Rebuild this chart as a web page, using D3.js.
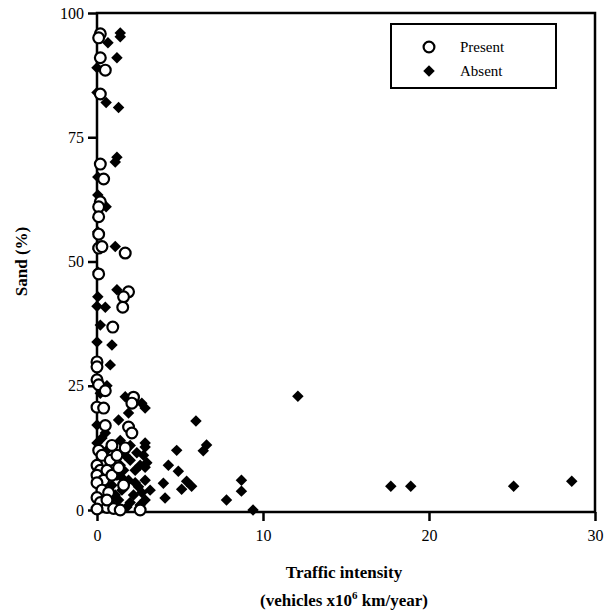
<!DOCTYPE html>
<html>
<head>
<meta charset="UTF-8">
<script src="https://d3js.org/d3.v7.min.js"></script>
<style>
  body { margin: 0; background: #fff; }
  svg text { font-family: 'Liberation Serif', 'Times New Roman', serif !important; fill: #000; }
</style>
</head>
<body>
<svg id="chart" width="611" height="614"></svg>
<script>
// --- data (traffic intensity, sand %) ---
const xTicks = [0, 10, 20, 30];
const yTicks = [0, 25, 50, 75, 100];
const seriesNames = ["Present", "Absent"];

const presentX = [0.2,0.1,0.2,0.5,0.2,0.2,0.4,0.2,0.1,0.1,0.1,0.1,0.3,1.7,0.1,1.9,1.6,1.55,0.95,0,0,0,0.1,2.2,0,0.4,2.1,1.9,2.1,
  0.1,0.3,0.8,0,0.2,0.6,0,0.4,0.9,0,0.3,0.7,0,0.2,0.6,0,1.0,1.4,2.6,1.2,1.7,0.5,0.6,1.6,0.9,1.3,0.5];
const presentY = [95.8,95.0,91,88.5,83.7,69.6,66.6,62,61,59,55.5,52.7,53,51.7,47.5,43.9,42.9,40.8,36.8,29.8,28.8,26.2,25.2,22.7,20.7,20.5,21.5,16.7,15.5,
  12,11,10,9,8,8,7,6,7,5.5,4,3.5,2.5,1.5,0.5,0.2,0.3,0,0,11,12.5,24,2,5,13,8.5,17];

const absentX = [1.4,1.4,0.66,1.2,0,0,0.55,1.3,1.2,1.1,0.05,0.05,0.55,0.05,0.05,0.05,1.1,0.05,0.05,1.2,0,0.5,0.2,0,0.9,0.8,0,0.6,0.2,
  1.7,2.7,2.9,1.9,1.3,0,0.5,0,2.9,12.1,5.96,6.6,6.4,4.8,4.9,5.4,5.7,5.1,8.7,8.7,7.8,9.4,17.7,18.9,25.1,28.6,2.9,4.3,4.0,2.5,4.1,
  1.7,2.0,1.4,2.3,2.6,1.9,1.5,2.2,2.9,1.3,2.6,1.8,3.2,2.9,0.9,0.8,2.0,1.4,2.8,3.0,2.9,0.3,0.6,1.0,1.2,2.3,0.6,1.0,
  1.5,2.4,1.1,2.7,2.0,1.6];
const absentY = [96,95.2,94,91,89,84,82,81,71,70,67,63.4,61,58.8,56,52.5,53,47.9,42.9,44.3,41,40.8,37.2,33.8,33.2,29.2,25,25,23.5,
  22.8,21.5,20.5,19.5,18.1,17.1,15.5,13.5,13.5,22.9,17.9,13.1,11.9,12,7.8,5.8,4.8,4.2,6,3.8,2,0,4.8,4.8,4.8,5.8,8.6,9,5.4,4.7,2.4,
  11,10,9,8,9,6,4,3,2,2,1,0.6,4,6,5,2,13,14,11,9.5,12.7,14.5,12,10.5,7,5.5,3.3,0.8,
  6.5,11.5,3,3.5,1.5,8];

// --- layout ---
const svg = d3.select("#chart");
const x = d3.scaleLinear().domain([0, 30]).range([97, 595]);
const y = d3.scaleLinear().domain([-0.4, 100]).range([512, 13]);
const diamond = d3.symbol().type(d3.symbolDiamond2).size(84);
const serif = "'Liberation Serif', 'Times New Roman', serif";

// frame
svg.append("rect")
  .attr("x", x(0)).attr("y", y(100))
  .attr("width", x(30) - x(0)).attr("height", y(-0.4) - y(100))
  .attr("fill", "none").attr("stroke", "#000").attr("stroke-width", 2.5);

// axes
const yAxis = svg.append("g").attr("transform", `translate(${x(0)},0)`)
  .call(d3.axisLeft(y).tickValues(yTicks).tickSize(9).tickPadding(4));
const xAxis = svg.append("g").attr("transform", `translate(0,${y(-0.4)})`)
  .call(d3.axisBottom(x).tickValues(xTicks).tickSize(9).tickPadding(9));
[yAxis, xAxis].forEach(g => {
  g.attr("font-family", serif);
  g.select(".domain").remove();
  g.selectAll(".tick line").attr("stroke", "#000").attr("stroke-width", 2.5);
  g.selectAll(".tick text").style("font-family", serif).attr("font-size", 16).attr("fill", "#000");
});

// points: absent (diamonds) then present (open circles)
svg.append("g").selectAll("path")
  .data(d3.range(absentX.length))
  .join("path")
  .attr("d", diamond)
  .attr("transform", i => `translate(${x(absentX[i])},${y(absentY[i])})`)
  .attr("fill", "#000");

svg.append("g").selectAll("circle")
  .data(d3.range(presentX.length))
  .join("circle")
  .attr("cx", i => x(presentX[i]))
  .attr("cy", i => y(presentY[i]))
  .attr("r", 5.4)
  .attr("fill", "#fff")
  .attr("stroke", "#000")
  .attr("stroke-width", 2.2);

// axis titles
svg.append("text")
  .attr("transform", `translate(27,${(y(0) + y(100)) / 2}) rotate(-90)`)
  .attr("text-anchor", "middle")
  .attr("font-weight", "bold").attr("font-size", 17)
  .text("Sand (%)");

svg.append("text")
  .attr("x", (x(0) + x(30)) / 2 - 2).attr("y", 578)
  .attr("text-anchor", "middle")
  .attr("font-weight", "bold").attr("font-size", 17)
  .text("Traffic intensity");

const sub = svg.append("text")
  .attr("x", (x(0) + x(30)) / 2 - 2).attr("y", 606)
  .attr("text-anchor", "middle")
  .attr("font-weight", "bold").attr("font-size", 17);
sub.append("tspan").text("(vehicles x10");
sub.append("tspan").attr("dy", -7).attr("font-size", 11).text("6");
sub.append("tspan").attr("dy", 7).text(" km/year)");

// legend
const lg = svg.append("g");
lg.append("rect").attr("x", 391).attr("y", 24).attr("width", 165).attr("height", 64)
  .attr("fill", "#fff").attr("stroke", "#000").attr("stroke-width", 2);
lg.append("circle").attr("cx", 429).attr("cy", 47).attr("r", 5.4)
  .attr("fill", "#fff").attr("stroke", "#000").attr("stroke-width", 2.2);
lg.append("path").attr("d", diamond).attr("transform", "translate(429,71)").attr("fill", "#000");
lg.selectAll("text.lbl").data(seriesNames).join("text")
  .attr("class", "lbl")
  .attr("x", 460).attr("y", (d, i) => 52 + i * 24)
  .attr("font-size", 15)
  .text(d => d);
</script>
</body>
</html>
